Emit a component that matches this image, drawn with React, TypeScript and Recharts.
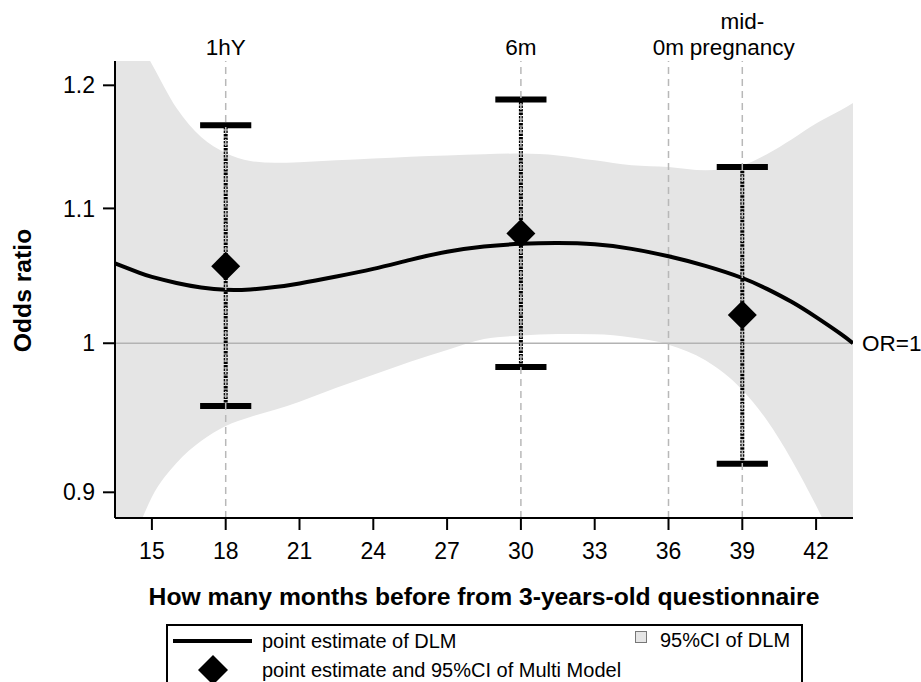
import {
  Area,
  ComposedChart,
  Line,
  ReferenceLine,
  Scatter,
  XAxis,
  YAxis,
} from "recharts";

const FONT = '"Liberation Sans", Arial, Helvetica, sans-serif';

// DLM curve and its 95% band
const months = [
  13.5, 14.5, 15, 16, 17, 18, 19, 20, 21, 22.5, 24, 25.5, 27, 28.5, 30, 31.5,
  33, 34.5, 36, 37.5, 39, 40, 41, 42, 43, 43.5,
];
const dlmEstimate = [
  1.058, 1.051, 1.048, 1.0435, 1.0402, 1.0385, 1.0388, 1.0405, 1.0432, 1.0483,
  1.054, 1.0607, 1.0668, 1.0708, 1.0728, 1.0734, 1.0724, 1.069, 1.0634,
  1.0562, 1.0472, 1.0392, 1.0297, 1.0186, 1.0066, 1.0,
];
const dlmLower = [
  0.85, 0.88, 0.897, 0.9188, 0.9332, 0.9432, 0.9492, 0.954, 0.9595, 0.969,
  0.978, 0.987, 0.9952, 1.003, 1.0055, 1.0065, 1.0063, 1.004, 0.999, 0.988,
  0.9675, 0.947, 0.921, 0.8916, 0.86, 0.845,
];
const dlmUpper = [
  1.275, 1.237, 1.218, 1.181, 1.157, 1.144, 1.1375, 1.136, 1.1365, 1.138,
  1.1395, 1.141, 1.142, 1.143, 1.1435, 1.142, 1.138, 1.134, 1.1327, 1.13,
  1.134, 1.143, 1.155, 1.168, 1.179, 1.185,
];

// multi model estimates with 95%CI
const multiMonths = [18, 30, 39];
const multiEstimate = [1.056, 1.0807, 1.0201];
const multiLower = [0.9566, 0.9834, 0.9183];
const multiUpper = [1.1667, 1.188, 1.1327];

const markerMonths = [18, 30, 36, 39];
const markerLabels = [["1hY"], ["6m"], ["0m"], ["mid-", "pregnancy"]];

const xTicks = [15, 18, 21, 24, 27, 30, 33, 36, 39, 42];
const yTicks = [0.9, 1, 1.1, 1.2];

const dlmData = months.map((m, i) => ({
  m,
  est: dlmEstimate[i],
  band: [dlmLower[i], dlmUpper[i]],
}));

const multiData = multiMonths.map((m, i) => ({ m, or: multiEstimate[i] }));

const CAP_HALF = 1.04;

function Diamond(props: any) {
  const { cx, cy } = props;
  if (cx == null || cy == null) return null;
  const r = 14.5;
  return (
    <path
      d={`M${cx},${cy - r}L${cx + r},${cy}L${cx},${cy + r}L${cx - r},${cy}Z`}
      fill="#000"
    />
  );
}

function topLabel(lines: string[]) {
  return (props: any) => {
    const { viewBox } = props;
    const x = viewBox.x;
    const baseY = viewBox.y - 6;
    return (
      <text textAnchor="middle" fontFamily={FONT} fontSize={22.5} fill="#000">
        {lines.map((line, i) => (
          <tspan key={line} x={x} y={baseY - (lines.length - 1 - i) * 26}>
            {line}
          </tspan>
        ))}
      </text>
    );
  };
}

export default function App() {
  return (
    <div
      style={{
        position: "absolute",
        left: 0,
        top: 0,
        width: 921,
        height: 682,
        overflow: "hidden",
        background: "#fff",
      }}
    >
      <ComposedChart
        width={921}
        height={682}
        data={dlmData}
        margin={{ top: 61, right: 68, bottom: 0, left: 0 }}
      >
        <XAxis
          dataKey="m"
          type="number"
          domain={[13.5, 43.5]}
          allowDataOverflow
          ticks={xTicks}
          height={164}
          tickSize={12}
          tickMargin={13}
          tick={{ fontSize: 23, fill: "#000", fontFamily: FONT }}
          axisLine={{ stroke: "#000", strokeWidth: 2 }}
          tickLine={{ stroke: "#000", strokeWidth: 2 }}
          label={(props: any) => {
            const vb = props.viewBox;
            return (
              <text
                x={vb.x + vb.width / 2}
                y={vb.y + 87}
                textAnchor="middle"
                fontFamily={FONT}
                fontSize={24.7}
                fontWeight="bold"
                fill="#000"
              >
                How many months before from 3-years-old questionnaire
              </text>
            );
          }}
        />
        <YAxis
          scale="log"
          type="number"
          domain={[0.8838, 1.2208]}
          allowDataOverflow
          ticks={yTicks}
          tickFormatter={(v: number) => String(v)}
          width={115}
          tickSize={12}
          tickMargin={8}
          tick={{ fontSize: 23, fill: "#000", fontFamily: FONT }}
          axisLine={{ stroke: "#000", strokeWidth: 2 }}
          tickLine={{ stroke: "#000", strokeWidth: 2 }}
          label={(props: any) => {
            const vb = props.viewBox;
            const cy = vb.y + vb.height / 2 + 1;
            return (
              <text
                x={31}
                y={cy}
                transform={`rotate(-90, 31, ${cy})`}
                textAnchor="middle"
                fontFamily={FONT}
                fontSize={24.7}
                fontWeight="bold"
                fill="#000"
              >
                Odds ratio
              </text>
            );
          }}
        />
        <Area
          dataKey="band"
          type="monotone"
          fill="#e5e5e5"
          fillOpacity={1}
          stroke="none"
          isAnimationActive={false}
          activeDot={false}
        />
        <ReferenceLine
          y={1}
          stroke="#b3b3b3"
          strokeWidth={1.5}
          label={{
            value: "OR=1",
            position: "right",
            offset: 9,
            fontSize: 22.5,
            fill: "#000",
            fontFamily: FONT,
          }}
        />
        <Line
          dataKey="est"
          type="natural"
          stroke="#000"
          strokeWidth={4}
          dot={false}
          activeDot={false}
          isAnimationActive={false}
        />
        {multiMonths.map((m, i) => (
          <ReferenceLine
            key={`stem-${m}`}
            segment={[
              { x: m, y: multiLower[i] },
              { x: m, y: multiUpper[i] },
            ]}
            stroke="#000"
            strokeWidth={4}
            strokeDasharray="2.5 1"
          />
        ))}
        {multiMonths.map((m, i) => (
          <ReferenceLine
            key={`capu-${m}`}
            segment={[
              { x: m - CAP_HALF, y: multiUpper[i] },
              { x: m + CAP_HALF, y: multiUpper[i] },
            ]}
            stroke="#000"
            strokeWidth={6}
          />
        ))}
        {multiMonths.map((m, i) => (
          <ReferenceLine
            key={`capl-${m}`}
            segment={[
              { x: m - CAP_HALF, y: multiLower[i] },
              { x: m + CAP_HALF, y: multiLower[i] },
            ]}
            stroke="#000"
            strokeWidth={6}
          />
        ))}
        <Scatter
          data={multiData}
          dataKey="or"
          shape={Diamond}
          isAnimationActive={false}
        />
        {markerMonths.map((m, i) => (
          <ReferenceLine
            key={`mark-${m}`}
            x={m}
            stroke="#b8b8b8"
            strokeWidth={1.5}
            strokeDasharray="7 5"
            label={topLabel(markerLabels[i])}
          />
        ))}
      </ComposedChart>

      <svg
        width={921}
        height={682}
        style={{ position: "absolute", left: 0, top: 0, pointerEvents: "none" }}
      >
        <rect
          x={167}
          y={625}
          width={635}
          height={80}
          fill="#fff"
          stroke="#000"
          strokeWidth={2}
        />
        <line x1={173} y1={641} x2={252} y2={641} stroke="#000" strokeWidth={4} />
        <text
          x={262}
          y={641}
          dominantBaseline="central"
          fontFamily={FONT}
          fontSize={20}
          fill="#000"
        >
          point estimate of DLM
        </text>
        <rect
          x={635.5}
          y={631.5}
          width={11}
          height={11}
          fill="#e5e5e5"
          stroke="#777"
          strokeWidth={1}
        />
        <text
          x={660}
          y={640}
          dominantBaseline="central"
          fontFamily={FONT}
          fontSize={20}
          fill="#000"
        >
          95%CI of DLM
        </text>
        <path d="M213,655L228,670L213,685L198,670Z" fill="#000" />
        <text
          x={262}
          y={670}
          dominantBaseline="central"
          fontFamily={FONT}
          fontSize={20}
          fill="#000"
        >
          point estimate and 95%CI of Multi Model
        </text>
      </svg>
    </div>
  );
}
